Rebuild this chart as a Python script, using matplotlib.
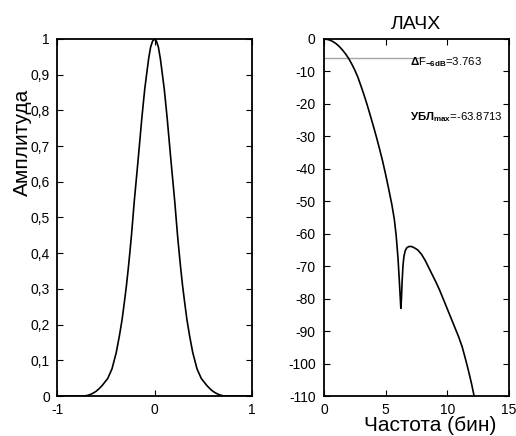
import matplotlib
matplotlib.use("Agg")
import matplotlib.pyplot as plt

plt.rcParams['font.family'] = ['Liberation Sans', 'DejaVu Sans']
plt.rcParams['mathtext.fontset'] = 'custom'
plt.rcParams['mathtext.rm'] = 'Liberation Sans'
plt.rcParams['mathtext.bf'] = 'Liberation Sans:bold'
plt.rcParams['mathtext.it'] = 'Liberation Sans:italic'
plt.rcParams['axes.unicode_minus'] = False

# window (time domain)
win_x = [-1.0, -0.72, -0.69, -0.66, -0.63, -0.60, -0.57, -0.538, -0.48, -0.436,
         -0.392, -0.359, -0.332, -0.309, -0.288, -0.269, -0.252, -0.236, -0.222,
         -0.208, -0.192, -0.176, -0.16, -0.145, -0.13, -0.113, -0.10, -0.08,
         -0.06, -0.04, -0.02, 0.0,
         0.02, 0.04, 0.06, 0.08, 0.10, 0.113, 0.13, 0.145, 0.16, 0.176, 0.192,
         0.208, 0.222, 0.236, 0.252, 0.269, 0.288, 0.309, 0.332, 0.359, 0.392,
         0.436, 0.48, 0.538, 0.57, 0.60, 0.63, 0.66, 0.69, 0.72, 1.0]
win_y = [0.0, 0.0, 0.0015, 0.004, 0.008, 0.013, 0.020, 0.029, 0.049, 0.076,
         0.122, 0.170, 0.215, 0.263, 0.309, 0.357, 0.404, 0.451, 0.497,
         0.544, 0.591, 0.638, 0.686, 0.732, 0.778, 0.825, 0.860, 0.903,
         0.945, 0.977, 0.994, 1.0,
         0.994, 0.977, 0.945, 0.903, 0.860, 0.825, 0.778, 0.732, 0.686, 0.638, 0.591,
         0.544, 0.497, 0.451, 0.404, 0.357, 0.309, 0.263, 0.215, 0.170, 0.122,
         0.076, 0.049, 0.029, 0.020, 0.013, 0.008, 0.004, 0.0015, 0.0, 0.0]

# log amplitude response (dB vs bins)
freq = [0.0, 0.25, 0.5, 0.75, 1.0, 1.25, 1.5, 1.75, 2.0, 2.25, 2.5, 2.75, 3.0,
        3.25, 3.5, 3.75, 4.0, 4.25, 4.5, 4.75, 5.0, 5.25, 5.5, 5.7, 5.85, 6.0,
        6.1, 6.18, 6.23, 6.28, 6.33, 6.40, 6.48, 6.58, 6.70, 6.85, 6.97, 7.15,
        7.35, 7.6, 7.9, 8.2, 8.5, 8.8, 9.1, 9.4, 9.7, 10.0, 10.3, 10.6, 10.9,
        11.2, 11.45, 11.7, 11.95, 12.2]
level_db = [0.0, -0.1, -0.38, -0.85, -1.5, -2.35, -3.4, -4.6, -6.0, -7.7, -9.6, -11.8, -14.5,
            -17.3, -20.3, -23.5, -26.8, -30.2, -33.8, -37.6, -41.8, -46.3, -51.0, -55.5, -60.5, -67.5,
            -74.0, -79.5, -83.0, -80.0, -75.0, -70.0, -67.0, -65.3, -64.4, -64.0, -63.9, -64.0,
            -64.4, -65.0, -66.3, -68.2, -70.5, -72.8, -75.1, -77.6, -80.4, -83.2, -86.0, -88.8, -91.6,
            -94.8, -98.3, -102.0, -106.0, -110.5]

bw_6db = 3.763
max_sidelobe = -63.8713

win_yticks = [0, 0.1, 0.2, 0.3, 0.4, 0.5, 0.6, 0.7, 0.8, 0.9, 1.0]
win_yticklabels = ["0", "0,1", "0,2", "0,3", "0,4", "0,5", "0,6", "0,7", "0,8", "0,9", "1"]
win_xticks = [-1, 0, 1]
db_yticks = [0, -10, -20, -30, -40, -50, -60, -70, -80, -90, -100, -110]
db_xticks = [0, 5, 10, 15]

fig = plt.figure(figsize=(5.16, 4.36), dpi=100)
ax1 = fig.add_axes([57/516, 40/436, 195/516, 357/436])
ax2 = fig.add_axes([324/516, 40/436, 185/516, 357/436])

for ax in (ax1, ax2):
    ax.tick_params(direction='in', length=4, width=0.8, top=True, right=True,
                   labelsize=10, pad=5)
    for s in ax.spines.values():
        s.set_linewidth(1.3)

# left: window
ax1.plot(win_x, win_y, color='black', lw=1.2)
ax1.set_xlim(-1, 1)
ax1.set_ylim(0, 1)
ax1.set_xticks(win_xticks)
ax1.set_yticks(win_yticks)
ax1.set_yticklabels(win_yticklabels)
ax1.set_ylabel("Амплитуда", fontsize=15)
ax1.yaxis.set_label_coords(-0.13, 0.71)

# right: spectrum
ax2.plot([0, 8], [-6, -6], color='0.65', lw=1.0)
ax2.plot(freq, level_db, color='black', lw=1.2)
ax2.set_xlim(0, 15)
ax2.set_ylim(-110, 0)
ax2.set_xticks(db_xticks)
ax2.set_yticks(db_yticks)
ax2.tick_params(axis='y', pad=6)
ax2.set_title("ЛАЧХ", fontsize=14, pad=7)
ax2.set_xlabel("Частота (бин)", fontsize=15)
ax2.xaxis.set_label_coords(0.573, -0.056)

ax2.text(7.0, -7.0, r"$\mathbf{Δ}$F$_{\mathbf{-6dB}}$=" + f"{bw_6db}",
         fontsize=8.2, va='center', ha='left')
ax2.text(7.0, -24.0, r"$\mathbf{УБЛ}_{\mathbf{max}}$=" + f"{max_sidelobe}",
         fontsize=8.2, va='center', ha='left')

fig.savefig("out.png", dpi=100, facecolor='white')
